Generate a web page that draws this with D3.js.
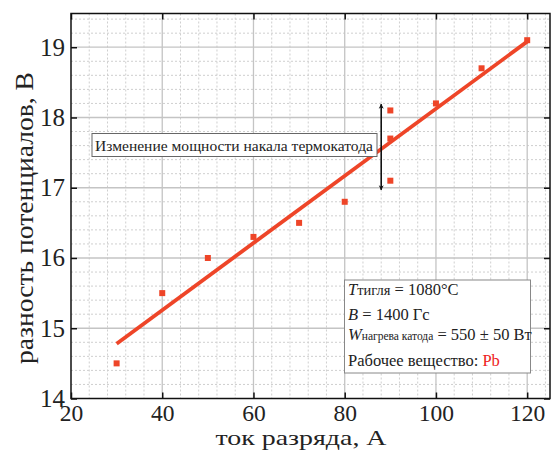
<!DOCTYPE html>
<html><head><meta charset="utf-8">
<script src="https://cdn.jsdelivr.net/npm/d3@7"></script>
<style>
html,body{margin:0;padding:0;background:#fff;}
svg{display:block;}
text{font-family:"Liberation Serif","Times New Roman",serif;fill:#222;}
</style></head>
<body>
<svg id="chart" width="555" height="450"></svg>
<script>
// ---- data ----
const currentA = [30, 40, 50, 60, 70, 80, 90, 90, 90, 100, 110, 120];
const voltageV = [14.5, 15.5, 16.0, 16.3, 16.5, 16.8, 18.1, 17.7, 17.1, 18.2, 18.7, 19.1];
const fitX = [30, 120];
const fitY = [14.78, 19.08];
const xTicks = [20, 40, 60, 80, 100, 120];
const yTicks = [14, 15, 16, 17, 18, 19];
const annotationText = "Изменение мощности накала термокатода";
const arrowX = 88, arrowY = [18.19, 16.97];

const SERIF = '"Liberation Serif","Times New Roman",serif';
const svg = d3.select("#chart");
const L = 71, R = 550, T = 13.5, B = 398.5;
const x = d3.scaleLinear().domain([20, 125]).range([L, R]);
const y = d3.scaleLinear().domain([14, 19.48]).range([B, T]);
const red = "#ee4528";

// minor grid
const g = svg.append("g");
g.selectAll("line.mx").data(d3.range(24, 125, 4).filter(v => (v - 20) % 20 !== 0))
  .join("line").attr("x1", d => x(d)).attr("x2", d => x(d)).attr("y1", T).attr("y2", B)
  .attr("stroke", "#cfcfcf").attr("stroke-width", 1).attr("stroke-dasharray", "2,2");
g.selectAll("line.my").data(d3.range(14.2, 19.45, 0.2).filter(v => Math.abs(v - Math.round(v)) > 0.05))
  .join("line").attr("x1", L).attr("x2", R).attr("y1", d => y(d)).attr("y2", d => y(d))
  .attr("stroke", "#cfcfcf").attr("stroke-width", 1).attr("stroke-dasharray", "2,2");
// major grid
g.selectAll("line.gx").data(xTicks.slice(1)).join("line")
  .attr("x1", d => x(d)).attr("x2", d => x(d)).attr("y1", T).attr("y2", B)
  .attr("stroke", "#c4c4c4").attr("stroke-width", 1.3);
g.selectAll("line.gy").data(yTicks.slice(1)).join("line")
  .attr("x1", L).attr("x2", R).attr("y1", d => y(d)).attr("y2", d => y(d))
  .attr("stroke", "#c4c4c4").attr("stroke-width", 1.3);

// axes
const ax = (gen, tr, fsz) => {
  const a = svg.append("g").attr("transform", tr).call(gen);
  a.attr("font-family", null);
  a.select(".domain").remove();
  a.selectAll(".tick line").attr("stroke", "#111").attr("stroke-width", 1.5);
  a.selectAll("text").attr("font-size", fsz).attr("fill", "#222").style("font-family", SERIF);
  return a;
};
ax(d3.axisBottom(x).tickValues(xTicks).tickFormat(d3.format("d")).tickSizeInner(-6).tickSizeOuter(0).tickPadding(6), `translate(0,${B})`, 23.5);
ax(d3.axisTop(x).tickValues(xTicks).tickSizeInner(-6).tickSizeOuter(0).tickFormat(""), `translate(0,${T})`, 23.5);
ax(d3.axisLeft(y).tickValues(yTicks).tickFormat(d3.format("d")).tickSizeInner(-6).tickSizeOuter(0).tickPadding(6), `translate(${L},0)`, 25);
ax(d3.axisRight(y).tickValues(yTicks).tickSizeInner(-6).tickSizeOuter(0).tickFormat(""), `translate(${R},0)`, 25);

// frame
svg.append("rect").attr("x", L).attr("y", T).attr("width", R - L).attr("height", B - T)
  .attr("fill", "none").attr("stroke", "#111").attr("stroke-width", 1.5);

// fit line
svg.append("path").datum(d3.zip(fitX, fitY))
  .attr("d", d3.line().x(d => x(d[0])).y(d => y(d[1])))
  .attr("stroke", red).attr("stroke-width", 3.8).attr("fill", "none");

// points
svg.selectAll("rect.pt").data(d3.zip(currentA, voltageV)).join("rect")
  .attr("x", d => x(d[0]) - 3).attr("y", d => y(d[1]) - 3)
  .attr("width", 6).attr("height", 6).attr("fill", red);

// annotation box
const ab = svg.append("g");
ab.append("rect").attr("x", 92).attr("y", 133.5).attr("width", 285).attr("height", 23)
  .attr("fill", "#fff").attr("stroke", "#666").attr("stroke-width", 1);
ab.append("text").attr("x", 95).attr("y", 151).attr("font-size", 15.5)
  .attr("textLength", 278).attr("lengthAdjust", "spacingAndGlyphs").text(annotationText);

// double arrow
const defs = svg.append("defs");
defs.append("marker").attr("id", "ah").attr("viewBox", "0 0 10 10").attr("refX", 9).attr("refY", 5)
  .attr("markerWidth", 5).attr("markerHeight", 7).attr("markerUnits", "userSpaceOnUse").attr("orient", "auto-start-reverse")
  .append("path").attr("d", "M0,0 L10,5 L0,10 L3,5 Z").attr("fill", "#111");
svg.append("line").attr("x1", x(arrowX)).attr("x2", x(arrowX)).attr("y1", y(arrowY[0])).attr("y2", y(arrowY[1]))
  .attr("stroke", "#111").attr("stroke-width", 1.6)
  .attr("marker-start", "url(#ah)").attr("marker-end", "url(#ah)");

// legend box
const lg = svg.append("g");
lg.append("rect").attr("x", 344.5).attr("y", 280).attr("width", 186).attr("height", 93)
  .attr("fill", "#fff").attr("stroke", "#888").attr("stroke-width", 1);
const fs = 16.5;
const t1 = lg.append("text").attr("x", 348).attr("y", 295).attr("font-size", fs);
t1.append("tspan").attr("font-style", "italic").text("T");
t1.append("tspan").attr("font-size", 14.5).text("тигля");
t1.append("tspan").text(" = 1080°C");
const t2 = lg.append("text").attr("x", 348).attr("y", 320).attr("font-size", fs);
t2.append("tspan").attr("font-style", "italic").text("B");
t2.append("tspan").text(" = 1400 Гс");
const t3 = lg.append("text").attr("x", 348).attr("y", 340).attr("font-size", fs);
t3.append("tspan").attr("font-style", "italic").text("W");
t3.append("tspan").attr("font-size", 11.5).text("нагрева катода");
t3.append("tspan").text(" = 550 ± 50 Вт");
const t4 = lg.append("text").attr("x", 348).attr("y", 365.5).attr("font-size", fs);
t4.append("tspan").text("Рабочее вещество: ");
t4.append("tspan").style("fill", "#ee2222").text("Pb");

// axis titles
svg.append("text").attr("x", 301).attr("y", 445).attr("text-anchor", "middle").attr("font-size", 21.5)
  .attr("textLength", 171).attr("lengthAdjust", "spacingAndGlyphs").text("ток разряда, А");
svg.append("text").attr("transform", "translate(33,218) rotate(-90)").attr("text-anchor", "middle")
  .attr("font-size", 25).attr("textLength", 292).attr("lengthAdjust", "spacingAndGlyphs")
  .text("разность потенциалов, В");
</script>
</body></html>
